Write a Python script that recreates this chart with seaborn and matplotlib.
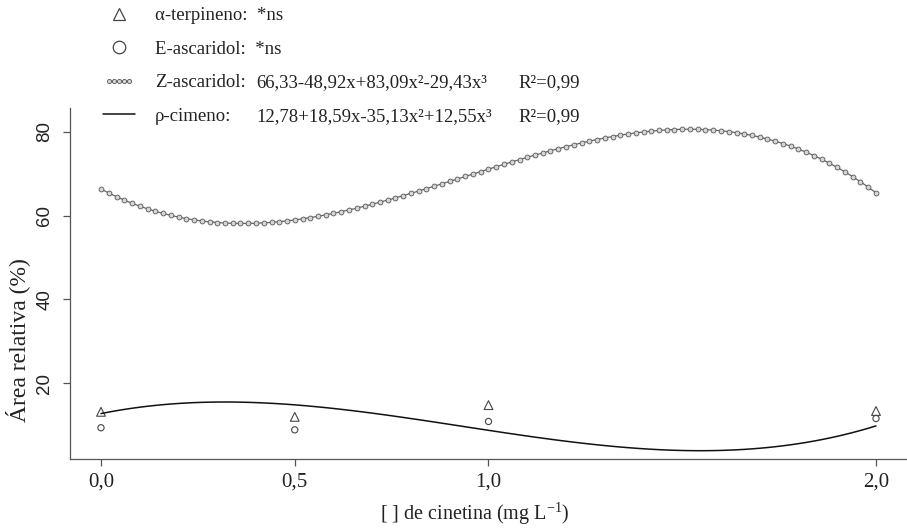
import numpy as np
import pandas as pd
import matplotlib
matplotlib.use("Agg")
import matplotlib.pyplot as plt
from matplotlib.lines import Line2D
from matplotlib.legend_handler import HandlerLine2D
import seaborn as sns

# Kinetin concentration (mg L-1) and measured relative areas (%)
dose = [0.0, 0.5, 1.0, 2.0]
terpineno = [13.2, 12.0, 14.8, 13.4]
e_ascaridol = [9.4, 8.9, 10.9, 11.6]

# Fitted cubic regressions (intercept, x, x^2, x^3)
coef_z_ascaridol = [66.33, -48.92, 83.09, -29.43]
coef_cimeno = [12.78, 18.59, -35.13, 12.55]

legend_names = ["α-terpineno:  *ns", "E-ascaridol:  *ns",
                "Z-ascaridol:", "ρ-cimeno:"]
equations = ["66,33-48,92x+83,09x²-29,43x³",
             "12,78+18,59x-35,13x²+12,55x³"]
r2_text = "R²=0,99"

yticks = [20, 40, 60, 80]
xticks = [0.0, 0.5, 1.0, 2.0]
xticklabels = ["0,0", "0,5", "1,0", "2,0"]

sns.set_theme(style="ticks")
plt.rcParams["font.family"] = ["Liberation Serif", "DejaVu Serif"]
plt.rcParams["mathtext.fontset"] = "custom"
plt.rcParams["mathtext.rm"] = "Liberation Serif"
plt.rcParams["mathtext.it"] = "Liberation Serif:italic"

W, H = 907, 528
fig = plt.figure(figsize=(W / 100, H / 100), dpi=100)
ax = fig.add_axes([70 / W, (H - 459) / H, 1 - 70 / W, (459 - 108) / H])

xs = np.linspace(0, 2, 101)
curve = pd.DataFrame({
    "x": xs,
    "z": np.polyval(coef_z_ascaridol[::-1], xs),
    "p": np.polyval(coef_cimeno[::-1], xs),
})

ink = "#222222"
grey = "#555555"

sns.lineplot(data=curve, x="x", y="z", ax=ax, color="#666666", lw=0.9,
             marker="o", markersize=3.5, markerfacecolor="#d6d6d6",
             markeredgecolor="#555555", markeredgewidth=0.6)
sns.lineplot(data=curve, x="x", y="p", ax=ax, color="#111111", lw=1.1)

pts = pd.DataFrame({"dose": dose, "t": terpineno, "e": e_ascaridol})
sns.scatterplot(data=pts, x="dose", y="t", ax=ax, marker="^", s=40,
                facecolor="none", edgecolor="#444444", linewidth=0.8)
sns.scatterplot(data=pts, x="dose", y="e", ax=ax, marker="o", s=20,
                facecolor="none", edgecolor="#444444", linewidth=0.8)

ax.set_xlim(-0.08, 2.08)
ax.set_ylim(1.95, 85.65)
ax.set_xticks(xticks)
ax.set_xticklabels(xticklabels, fontsize=15, color=ink)
ax.set_yticks(yticks)
ax.set_yticklabels([str(v) for v in yticks], fontsize=13.5, color=ink,
                   family=["Liberation Sans", "DejaVu Sans"],
                   rotation=90, va="center")
ax.tick_params(axis="both", direction="out", length=5, width=0.9,
               color=grey)
ax.tick_params(axis="x", pad=5)
ax.tick_params(axis="y", pad=7)
for s in ["top", "right"]:
    ax.spines[s].set_visible(False)
for s in ["left", "bottom"]:
    ax.spines[s].set_color(grey)
    ax.spines[s].set_linewidth(0.9)

ax.set_xlabel("[ ] de cinetina (mg L$^{-1}$)", fontsize=14.5, color=ink)
ax.set_ylabel("Área relativa (%)", fontsize=17, color=ink)
ax.xaxis.set_label_coords(0.483, -0.118)
ax.yaxis.set_label_coords(-0.048, 0.34)

handles = [
    Line2D([], [], ls="none", marker="^", ms=9, mfc="none",
           mec="#444444", mew=0.9),
    Line2D([], [], ls="none", marker="o", ms=9, mfc="none",
           mec="#444444", mew=0.9),
    Line2D([], [], color="#666666", lw=0.9, marker="o", ms=3.0,
           mfc="#d6d6d6", mec="#555555", mew=0.6),
    Line2D([], [], color="#111111", lw=1.1),
]
leg_fs = 13.5
leg = fig.legend(handles, legend_names, loc="upper left",
                 bbox_to_anchor=(103 / W, 1 - 7 / H), frameon=False,
                 fontsize=leg_fs, handlelength=1.7, handletextpad=1.05,
                 labelspacing=0.88, borderaxespad=0, borderpad=0,
                 handler_map={handles[2]: HandlerLine2D(numpoints=5),
                              handles[0]: HandlerLine2D(numpoints=1),
                              handles[1]: HandlerLine2D(numpoints=1)})
for t in leg.get_texts():
    t.set_color(ink)

# Equations and R² aligned in columns next to the fitted-curve entries
fig.canvas.draw()
renderer = fig.canvas.get_renderer()
for i, t in enumerate(leg.get_texts()[2:]):
    yf = t.get_window_extent(renderer).y0 / H
    fig.text(256 / W, yf, equations[i], fontsize=leg_fs, color=ink,
             va="bottom", ha="left")
    fig.text(518 / W, yf, r2_text, fontsize=leg_fs, color=ink,
             va="bottom", ha="left")

fig.savefig("out.png", dpi=100)
